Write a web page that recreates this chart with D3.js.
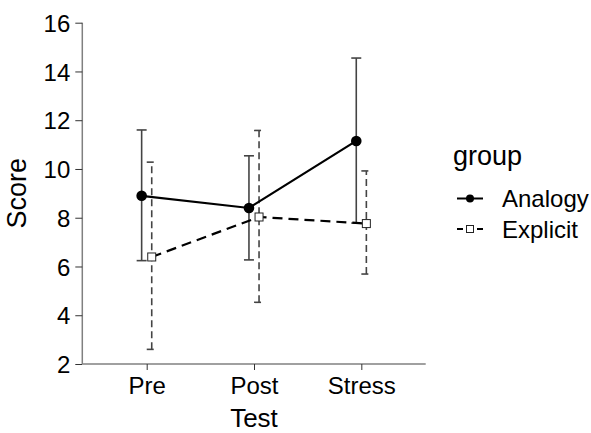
<!DOCTYPE html>
<html>
<head>
<meta charset="utf-8">
<script src="https://cdn.jsdelivr.net/npm/d3@7"></script>
<style>
  body { margin: 0; background: #fff; }
  text { font-family: "Liberation Sans", Arial, sans-serif; }
</style>
</head>
<body>
<div id="chart"></div>
<script>
const tests = ["Pre", "Post", "Stress"];
const groups = ["Analogy", "Explicit"];
const analogyMean = [8.9, 8.4, 11.15];
const analogyLow = [6.24, 6.27, 7.78];
const analogyHigh = [11.6, 10.54, 14.55];
const explicitMean = [6.39, 8.03, 7.76];
const explicitLow = [2.6, 4.53, 5.69];
const explicitHigh = [10.28, 11.58, 9.92];
const yTicks = [2, 4, 6, 8, 10, 12, 14, 16];

let width = 591, height = 433;

let svg = d3.select("#chart").append("svg")
  .attr("width", width)
  .attr("height", height);

let x = d3.scaleLinear()
  .domain([0.4, 3.6])
  .range([82.3, 425.7]);

let y = d3.scaleLinear()
  .domain([2, 16])
  .range([364, 22.7]);

let dodge = 0.047;

let series = [
  { name: "Analogy", mean: analogyMean, low: analogyLow, high: analogyHigh, off: -dodge, dash: null, barDash: null },
  { name: "Explicit", mean: explicitMean, low: explicitLow, high: explicitHigh, off: dodge, dash: "10,6", barDash: "7,4" }
];

series.forEach(s => {
  s.points = tests.map((t, i) => ({ x: i + 1 + s.off, m: s.mean[i], lo: s.low[i], hi: s.high[i] }));
});

// axes
let yAxis = svg.append("g")
  .attr("transform", "translate(" + x.range()[0] + ",0)")
  .call(d3.axisLeft(y).tickValues(yTicks).tickSize(7).tickPadding(5));

let xAxis = svg.append("g")
  .attr("transform", "translate(0," + y.range()[0] + ")")
  .call(d3.axisBottom(x).tickValues([1, 2, 3]).tickFormat(d => tests[d - 1]).tickSize(6).tickPadding(7));

[yAxis, xAxis].forEach(g => {
  g.select(".domain").attr("stroke", "#808080").attr("stroke-width", 1.5);
  g.selectAll(".tick line").attr("stroke", "#333").attr("stroke-width", 1);
  g.selectAll(".tick text").attr("fill", "#000").style("font-size", "24px")
    .style("font-family", '"Liberation Sans", Arial, sans-serif');
});
yAxis.selectAll(".tick text").attr("dy", "0.36em");
yAxis.select(".domain").attr("d", "M0," + y.range()[1] + "V" + y.range()[0]);
xAxis.select(".domain").attr("d", "M" + x.range()[0] + ",0H" + x.range()[1]);

// error bars
let capW = 5;
series.forEach(s => {
  let eb = svg.append("g")
    .attr("stroke", "#444")
    .attr("stroke-width", 1.6)
    .attr("fill", "none")
    .attr("stroke-dasharray", s.barDash);
  s.points.forEach(p => {
    eb.append("line")
      .attr("x1", x(p.x)).attr("x2", x(p.x))
      .attr("y1", y(p.lo)).attr("y2", y(p.hi));
    eb.append("line")
      .attr("x1", x(p.x) - capW).attr("x2", x(p.x) + capW)
      .attr("y1", y(p.hi)).attr("y2", y(p.hi));
    eb.append("line")
      .attr("x1", x(p.x) - capW).attr("x2", x(p.x) + capW)
      .attr("y1", y(p.lo)).attr("y2", y(p.lo));
  });
});

// mean lines
let line = d3.line().x(d => x(d.x)).y(d => y(d.m));
series.forEach(s => {
  svg.append("path")
    .datum(s.points)
    .attr("d", line)
    .attr("fill", "none")
    .attr("stroke", "#000")
    .attr("stroke-width", 2.2)
    .attr("stroke-dasharray", s.dash);
});

// points
svg.selectAll(".pt-a")
  .data(series[0].points)
  .enter().append("circle")
  .attr("cx", d => x(d.x))
  .attr("cy", d => y(d.m))
  .attr("r", 5.3)
  .attr("fill", "#000");

svg.selectAll(".pt-e")
  .data(series[1].points)
  .enter().append("rect")
  .attr("x", d => x(d.x) - 4)
  .attr("y", d => y(d.m) - 4)
  .attr("width", 8)
  .attr("height", 8)
  .attr("fill", "#fff")
  .attr("stroke", "#222")
  .attr("stroke-width", 1);

// axis titles
svg.append("text")
  .attr("x", (x.range()[0] + x.range()[1]) / 2)
  .attr("y", 427)
  .attr("text-anchor", "middle")
  .style("font-size", "26px")
  .text("Test");

svg.append("text")
  .attr("transform", "translate(26," + (y.range()[0] + y.range()[1]) / 2 + ") rotate(-90)")
  .attr("text-anchor", "middle")
  .style("font-size", "27px")
  .text("Score");

// legend
let legend = svg.append("g").attr("transform", "translate(453,0)");
legend.append("text")
  .attr("x", 0).attr("y", 165)
  .style("font-size", "27px")
  .text("group");

let keyY = [198.5, 229];
series.forEach((s, i) => {
  let k = legend.append("g").attr("transform", "translate(0," + keyY[i] + ")");
  k.append("line")
    .attr("x1", 4).attr("x2", 30)
    .attr("stroke", "#000").attr("stroke-width", 2)
    .attr("stroke-dasharray", s.dash ? "6,4" : null);
  if (i === 0) {
    k.append("circle").attr("cx", 17).attr("r", 4).attr("fill", "#000");
  } else {
    k.append("rect").attr("x", 13.5).attr("y", -3.5).attr("width", 7).attr("height", 7)
      .attr("fill", "#fff").attr("stroke", "#222").attr("stroke-width", 1);
  }
  k.append("text")
    .attr("x", 49).attr("dy", "0.36em")
    .style("font-size", "24px")
    .text(s.name);
});
</script>
</body>
</html>
